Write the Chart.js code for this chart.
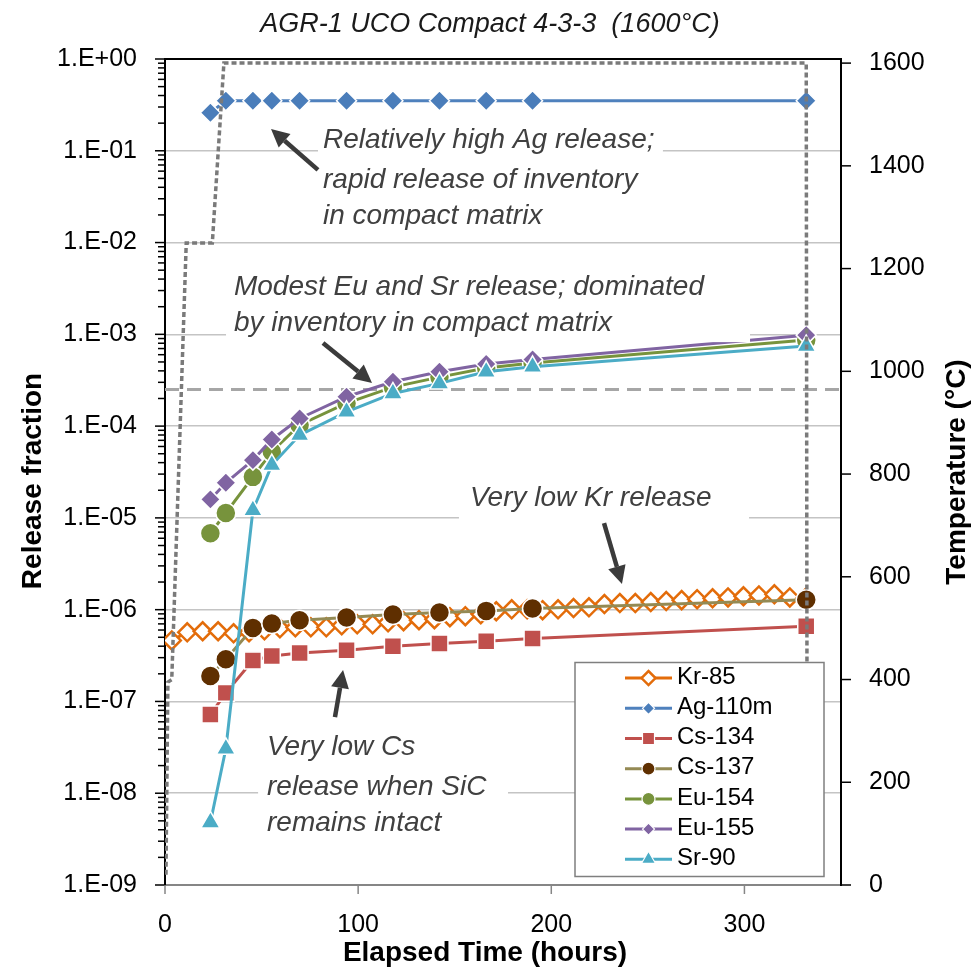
<!DOCTYPE html>
<html><head><meta charset="utf-8">
<script src="https://cdn.jsdelivr.net/npm/chart.js@4.4.1/dist/chart.umd.min.js"></script>
<style>html,body{margin:0;padding:0;background:#fff;}#wrap{width:975px;height:978px;}</style>
</head><body><div id="wrap"><canvas id="c" width="975" height="978"></canvas></div>
<script>
const FONT = '"Liberation Sans", Arial, sans-serif';
const titleText = 'AGR-1 UCO Compact 4-3-3  (1600°C)';
const xTitle = 'Elapsed Time (hours)';
const yTitle = 'Release fraction';
const y2Title = 'Temperature (°C)';

const seriesNames = ['Kr-85', 'Ag-110m', 'Cs-134', 'Cs-137', 'Eu-154', 'Eu-155', 'Sr-90'];
const sampleTimes = [23.5, 31.5, 45.5, 55.3, 69.7, 94.0, 118.0, 142.1, 166.3, 190.3, 332.0];
const krTimes = [3.5, 11.5, 19.5, 27.5, 35.5, 43.5, 51.5, 59.5, 67.5, 75.5, 83.5, 91.5, 99.5, 107.5, 115.5, 123.5, 131.5, 139.5, 147.5, 155.5, 163.5, 171.5, 179.5, 187.5, 195.5, 203.5, 211.5, 219.5, 227.5, 235.5, 243.5, 251.5, 259.5, 267.5, 275.5, 283.5, 291.5, 299.5, 307.5, 315.5, 323.5, 331.5];
const kr85 = [4.62e-7, 5.67e-7, 5.82e-7, 5.82e-7, 5.53e-7, 5.67e-7, 5.96e-7, 6.27e-7, 6.43e-7, 6.43e-7, 6.43e-7, 6.76e-7, 6.93e-7, 6.93e-7, 7.29e-7, 7.48e-7, 7.67e-7, 7.87e-7, 8.27e-7, 8.48e-7, 8.91e-7, 9.61e-7, 1.01e-6, 1.01e-6, 9.86e-7, 1.01e-6, 1.04e-6, 1.06e-6, 1.15e-6, 1.18e-6, 1.18e-6, 1.21e-6, 1.24e-6, 1.27e-6, 1.30e-6, 1.33e-6, 1.36e-6, 1.40e-6, 1.43e-6, 1.47e-6, 1.36e-6, 1.33e-6];
const ag110m = [0.26, 0.35, 0.35, 0.35, 0.35, 0.35, 0.35, 0.35, 0.35, 0.35, 0.35];
const cs134 = [7.2e-8, 1.24e-7, 2.8e-7, 3.13e-7, 3.37e-7, 3.61e-7, 3.99e-7, 4.27e-7, 4.52e-7, 4.84e-7, 6.6e-7];
const cs137 = [1.89e-7, 2.88e-7, 6.3e-7, 7.05e-7, 7.66e-7, 8.2e-7, 8.85e-7, 9.3e-7, 9.7e-7, 1.03e-6, 1.28e-6];
const eu154 = [6.8e-6, 1.13e-5, 2.8e-5, 5.25e-5, 1.03e-4, 1.78e-4, 2.66e-4, 3.42e-4, 4.3e-4, 4.87e-4, 8.7e-4];
const eu155 = [1.59e-5, 2.41e-5, 4.26e-5, 7.16e-5, 1.21e-4, 2.09e-4, 3.04e-4, 3.91e-4, 4.74e-4, 5.33e-4, 9.8e-4];
const sr90 = [4.8e-9, 3.05e-8, 1.21e-5, 3.76e-5, 7.98e-5, 1.43e-4, 2.27e-4, 2.92e-4, 3.91e-4, 4.43e-4, 7.45e-4];
const tempTimes = [0.5, 1.5, 3.5, 11.0, 24.5, 30.5, 332.0, 332.5];
const tempValues = [20, 395, 400, 1250, 1250, 1600, 1600, 50];
const limitTimes = [0, 350];
const limitValues = [2.5e-4, 2.5e-4];
const xTicks = [0, 100, 200, 300];
const yTicks = [1e-9, 1e-8, 1e-7, 1e-6, 1e-5, 1e-4, 1e-3, 1e-2, 1e-1, 1];
const y2Ticks = [0, 200, 400, 600, 800, 1000, 1200, 1400, 1600];

const styles = [
  {line:'#e36c0a', marker:'#e36c0a', fill:'#ffffff', shape:'rectRot', r:9, lr:7, bw:2.5},
  {line:'#4f81bd', marker:'#4a7dba', fill:'#4a7dba', shape:'rectRot', r:10, lr:6, bw:1.5},
  {line:'#c0504d', marker:'#c0504d', fill:'#c0504d', shape:'rect', r:12, lr:8.5, bw:1.5},
  {line:'#948a54', marker:'#5f2f00', fill:'#5f2f00', shape:'circle', r:10, lr:6.5, bw:1.5},
  {line:'#77933c', marker:'#77933c', fill:'#77933c', shape:'circle', r:10, lr:6.5, bw:1.5},
  {line:'#8064a2', marker:'#8064a2', fill:'#8064a2', shape:'rectRot', r:10, lr:6, bw:1.5},
  {line:'#4bacc6', marker:'#4bacc6', fill:'#4bacc6', shape:'triangle', r:11, lr:8, bw:1.5}
];

// annotations in data units: t (hours), L = log10(release fraction)
const notes = [
  {lines:['Relatively high Ag release;', 'rapid release of inventory', 'in compact matrix'], t:81.8, L:[-0.881, -1.317, -1.710], box:[79.2, -0.641, 257.8, -1.884]},
  {lines:['Modest Eu and Sr release; dominated', 'by inventory in compact matrix'], t:35.7, L:[-2.483, -2.876], box:[31.6, -2.222, 302.9, -3.085]},
  {lines:['Very low Kr release'], t:157.9, L:[-4.784], box:[152.2, -4.544, 302.4, -5.035]},
  {lines:['Very low Cs', 'release when SiC', 'remains intact'], t:52.8, L:[-7.498, -7.934, -8.327], box:[48.2, -7.236, 177.6, -8.566]}
];
const arrows = [
  [79.2, -1.208, 54.9, -0.762],
  [81.8, -3.094, 107.2, -3.530],
  [227.3, -5.056, 236.6, -5.721],
  [88.0, -7.171, 92.2, -6.658]
];

function shapePath(ctx, shape, x, y, r) {
  ctx.beginPath();
  if (shape === 'rectRot') {
    ctx.moveTo(x - r, y); ctx.lineTo(x, y - r); ctx.lineTo(x + r, y); ctx.lineTo(x, y + r); ctx.closePath();
  } else if (shape === 'rect') {
    const s = r * Math.SQRT1_2; ctx.rect(x - s, y - s, 2 * s, 2 * s);
  } else if (shape === 'circle') {
    ctx.arc(x, y, r, 0, Math.PI * 2);
  } else if (shape === 'triangle') {
    ctx.moveTo(x, y - r);
    ctx.lineTo(x + r * Math.cos(Math.PI / 6), y + r / 2);
    ctx.lineTo(x - r * Math.cos(Math.PI / 6), y + r / 2);
    ctx.closePath();
  }
}

function drawArrow(ctx, x0, y0, x1, y1) {
  const ang = Math.atan2(y1 - y0, x1 - x0);
  const hl = 18, hw = 9;
  const bx = x1 - hl * Math.cos(ang), by = y1 - hl * Math.sin(ang);
  ctx.strokeStyle = '#3b3b3b'; ctx.fillStyle = '#3b3b3b'; ctx.lineWidth = 4.5; ctx.lineCap = 'butt';
  ctx.beginPath(); ctx.moveTo(x0, y0); ctx.lineTo(bx, by); ctx.stroke();
  ctx.beginPath();
  ctx.moveTo(x1, y1);
  ctx.lineTo(bx + hw * Math.sin(ang), by - hw * Math.cos(ang));
  ctx.lineTo(bx - hw * Math.sin(ang), by + hw * Math.cos(ang));
  ctx.closePath(); ctx.fill();
}

const overlay = {
  id: 'overlay',
  afterDatasetsDraw(chart) {
    const {ctx, chartArea: ca, scales} = chart;
    const px = t => scales.x.getPixelForValue(t);
    const py = L => scales.y.getPixelForValue(Math.pow(10, L));
    ctx.save();
    notes.forEach(n => {
      const x0 = px(n.box[0]), x1 = px(n.box[2]), y0 = py(n.box[1]), y1 = py(n.box[3]);
      ctx.fillStyle = '#ffffff'; ctx.fillRect(x0, y0, x1 - x0, y1 - y0);
      ctx.fillStyle = '#404040'; ctx.font = 'italic 28px ' + FONT;
      ctx.textBaseline = 'middle'; ctx.textAlign = 'left';
      n.lines.forEach((s, i) => ctx.fillText(s, px(n.t), py(n.L[i])));
    });
    arrows.forEach(a => drawArrow(ctx, px(a[0]), py(a[1]), px(a[2]), py(a[3])));
    // legend
    const bl = ca.left + 410, bt = ca.top + 603.5, bw = 249, bh = 214;
    ctx.fillStyle = '#ffffff'; ctx.fillRect(bl, bt, bw, bh);
    ctx.strokeStyle = '#7f7f7f'; ctx.lineWidth = 1.5; ctx.strokeRect(bl, bt, bw, bh);
    seriesNames.forEach((name, i) => {
      const st = styles[i];
      const y = bt + 15.6 + 30.2 * i;
      ctx.strokeStyle = st.line; ctx.lineWidth = 3;
      ctx.beginPath(); ctx.moveTo(bl + 50, y); ctx.lineTo(bl + 97, y); ctx.stroke();
      shapePath(ctx, st.shape, bl + 73.5, y, st.lr);
      ctx.fillStyle = st.fill; ctx.fill();
      ctx.lineWidth = i === 0 ? 2.5 : 1.2;
      ctx.strokeStyle = i === 0 ? st.marker : '#ffffff'; ctx.stroke();
      ctx.fillStyle = '#000'; ctx.font = '24px ' + FONT; ctx.textAlign = 'left'; ctx.textBaseline = 'middle';
      ctx.fillText(name, bl + 102, y - 1);
    });
    ctx.restore();
  },
  afterDraw(chart) {
    const {ctx, chartArea: ca, scales} = chart;
    ctx.save();
    ctx.strokeStyle = '#000'; ctx.lineWidth = 1.5;
    for (let d = -9; d <= 0; d++) {
      const y = scales.y.getPixelForValue(Math.pow(10, d));
      ctx.beginPath(); ctx.moveTo(ca.left - 10, y); ctx.lineTo(ca.left, y); ctx.stroke();
      if (d < 0) for (let k = 2; k <= 9; k++) {
        const yy = scales.y.getPixelForValue(k * Math.pow(10, d));
        ctx.beginPath(); ctx.moveTo(ca.left - 7, yy); ctx.lineTo(ca.left, yy); ctx.stroke();
      }
    }
    y2Ticks.forEach(v => {
      const y = scales.y2.getPixelForValue(v);
      ctx.beginPath(); ctx.moveTo(ca.right, y); ctx.lineTo(ca.right + 10, y); ctx.stroke();
    });
    ctx.strokeStyle = '#868686';
    xTicks.forEach(v => {
      const x = scales.x.getPixelForValue(v);
      ctx.beginPath(); ctx.moveTo(x, ca.bottom); ctx.lineTo(x, ca.bottom + 9); ctx.stroke();
    });
    ctx.fillStyle = '#1a1a1a'; ctx.textAlign = 'center'; ctx.textBaseline = 'middle';
    ctx.font = 'italic 27px ' + FONT;
    ctx.fillText(titleText, 490, 24);
    ctx.fillStyle = '#000';
    ctx.font = 'bold 28px ' + FONT;
    ctx.fillText(xTitle, 485, 953);
    ctx.save(); ctx.translate(33, 481); ctx.rotate(-Math.PI / 2); ctx.fillText(yTitle, 0, 0); ctx.restore();
    ctx.save(); ctx.translate(957, 472); ctx.rotate(-Math.PI / 2); ctx.fillText(y2Title, 0, 0); ctx.restore();
    ctx.restore();
  }
};

function fmtExp(v) {
  const e = Math.round(Math.log10(v));
  return '1.E' + (e < 0 ? '-' : '+') + String(Math.abs(e)).padStart(2, '0');
}

const seriesData = [
  [krTimes, kr85], [sampleTimes, ag110m], [sampleTimes, cs134], [sampleTimes, cs137],
  [sampleTimes, eu154], [sampleTimes, eu155], [sampleTimes, sr90]
];

const datasets = seriesNames.map((name, i) => {
  const st = styles[i];
  const [xs, ys] = seriesData[i];
  return {
    label: name, yAxisID: 'y',
    data: xs.map((x, j) => ({x: x, y: ys[j]})),
    borderColor: st.line, borderWidth: 3,
    pointStyle: st.shape, pointRadius: st.r,
    pointBackgroundColor: st.fill,
    pointBorderColor: i === 0 ? st.marker : '#ffffff',
    pointBorderWidth: st.bw,
    tension: 0,
    order: 7 - i
  };
});
datasets.push({
  label: 'Temperature', yAxisID: 'y2',
  data: tempTimes.map((x, j) => ({x: x, y: tempValues[j]})),
  borderColor: '#7a7a7a', borderWidth: 3.5, borderDash: [5, 3], pointRadius: 0, order: 0
});
datasets.push({
  label: 'Limit', yAxisID: 'y',
  data: limitTimes.map((x, j) => ({x: x, y: limitValues[j]})),
  borderColor: '#a6a6a6', borderWidth: 3, borderDash: [14, 8], pointRadius: 0, order: 9
});

const tickFont = {family: FONT, size: 25};

new Chart(document.getElementById('c'), {
  type: 'line',
  data: {datasets},
  options: {
    responsive: false, animation: false, devicePixelRatio: 1,
    layout: {padding: {top: 59, left: 0, right: 0, bottom: 0}},
    plugins: {legend: {display: false}, tooltip: {enabled: false}, title: {display: false}},
    scales: {
      x: {
        type: 'linear', position: 'bottom', min: 0, max: 350,
        afterBuildTicks: s => { s.ticks = xTicks.map(v => ({value: v})); },
        afterFit: s => { s.height = 93; },
        grid: {display: false, drawTicks: false},
        border: {display: true, color: '#868686', width: 2},
        ticks: {font: tickFont, color: '#000', padding: 25, maxRotation: 0, autoSkip: false, callback: v => String(v)}
      },
      y: {
        type: 'logarithmic', position: 'left', min: 1e-9, max: 1,
        afterBuildTicks: s => { s.ticks = yTicks.map(v => ({value: v})); },
        afterFit: s => { s.width = 165; },
        grid: {
          drawTicks: false,
          color: c => (c.tick && c.tick.value === 1) ? '#000000' : ((c.tick && c.tick.value < 2e-9) ? 'rgba(0,0,0,0)' : '#c4c4c4'),
          lineWidth: c => (c.tick && c.tick.value === 1) ? 2 : 1.5
        },
        border: {display: true, color: '#000', width: 2},
        ticks: {font: tickFont, color: '#000', padding: 28, autoSkip: false, callback: v => fmtExp(v)}
      },
      y2: {
        type: 'linear', position: 'right', min: 0, max: 1608,
        afterBuildTicks: s => { s.ticks = y2Ticks.map(v => ({value: v})); },
        afterFit: s => { s.width = 134; },
        grid: {display: false, drawTicks: false},
        border: {display: true, color: '#000', width: 2},
        ticks: {font: tickFont, color: '#000', padding: 28, autoSkip: false, callback: v => String(v)}
      }
    }
  },
  plugins: [overlay]
});
</script>
</body></html>
